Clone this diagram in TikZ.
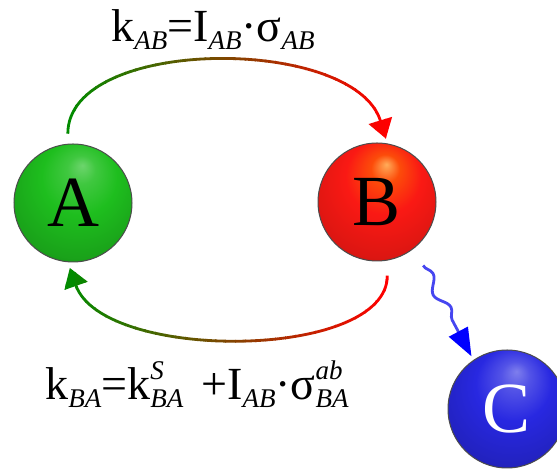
\documentclass[tikz,border=0pt]{standalone}
\usepackage{fontspec}
\setmainfont{Liberation Serif}
\usepackage{tikz}
\usetikzlibrary{arrows.meta, decorations.pathmorphing}

\definecolor{arcgreen}{RGB}{0,140,0}
\definecolor{arcred}{RGB}{250,40,35}
\definecolor{wavecol}{RGB}{70,70,240}
\definecolor{ballgreen}{RGB}{30,190,30}
\definecolor{ballred}{RGB}{250,25,20}
\definecolor{ballblue}{RGB}{40,40,225}

% shaded balls, highlight near the top
\pgfdeclareradialshading{greenball}{\pgfpoint{4bp}{16bp}}{color(0bp)=(ballgreen!65!white); color(6bp)=(ballgreen!85!white); color(16bp)=(ballgreen); color(30bp)=(ballgreen!85!black); color(40bp)=(ballgreen!55!black); color(50bp)=(ballgreen!40!black)}
\pgfdeclareradialshading{redball}{\pgfpoint{4bp}{16bp}}{color(0bp)=(orange!65!white); color(6bp)=(orange!50!ballred); color(16bp)=(ballred); color(30bp)=(ballred!88!black); color(40bp)=(ballred!60!black); color(50bp)=(ballred!40!black)}
\pgfdeclareradialshading{blueball}{\pgfpoint{4bp}{16bp}}{color(0bp)=(ballblue!60!white); color(6bp)=(ballblue!80!white); color(16bp)=(ballblue); color(30bp)=(ballblue!85!black); color(40bp)=(ballblue!55!black); color(50bp)=(ballblue!40!black)}

\newcommand{\sbs}[1]{\raisebox{-8pt}{\fontsize{27}{27}\selectfont\itshape #1}}
\newcommand{\sbsp}[2]{\rlap{\raisebox{20pt}{\fontsize{27}{27}\selectfont\itshape #2}}\raisebox{-8pt}{\fontsize{27}{27}\selectfont\itshape #1}}

\tikzset{
  ball/.style={circle, minimum size=118pt, inner sep=0pt, draw=black!70, line width=1pt,
    font=\fontsize{72}{72}\selectfont},
  flow/.style={line width=2.8pt, -{Triangle[length=19pt,width=24pt]}},
  wave/.style={wavecol, line width=2.8pt, decorate,
    decoration={snake, amplitude=5pt, segment length=38pt, post length=30pt},
    -{Triangle[length=28pt,width=21pt,color=blue]}},
  rate/.style={anchor=base, inner sep=0pt, font=\fontsize{46}{46}\selectfont}
}

\begin{document}
\begin{tikzpicture}[x=1pt, y=1pt]

\useasboundingbox (0,0) rectangle (557,470);

% the three states
\node (A) at ( 73,267) [ball, shading=greenball] {A};
\node (B) at (377,268) [ball, shading=redball] {B};
\node (C) at (507, 61) [ball, shading=blueball, text=white] {C};

% rate labels
\node (kab) at (213,428) [rate] {k\sbs{AB}=I\sbs{AB}·σ\sbs{AB}};
\node (kba) at (197, 70) [rate] {k\sbs{BA}=k\sbsp{BA}{S}\hspace{18pt}+I\sbs{AB}·σ\sbsp{BA}{ab}};

% green-to-red arcs, drawn strip by strip
\foreach \i in {0,...,34} {
  \pgfmathsetmacro\p{min(100,max(0,(60+10*\i-67)/3.18))}
  \begin{scope}
    \clip (55+10*\i,0) rectangle (66+10*\i,470);
    \draw[flow, red!\p!arcgreen, shorten <=10pt, shorten >=5pt]
      (A.95) .. controls +(0,108) and +(-33,108) .. (B.80);
    \draw[flow, red!\p!arcgreen, shorten <=15pt, shorten >=6pt]
      (B.280) .. controls +(0,-100) and +(35,-100) .. (A.265);
  \end{scope}
}

% wavy arrow from B to C
\path (B.-54) ++(-54:19) coordinate (w0);
\path (C.124) ++(124:4) coordinate (w1);
\draw[wave] (w0) -- (w1);

\end{tikzpicture}
\end{document}
